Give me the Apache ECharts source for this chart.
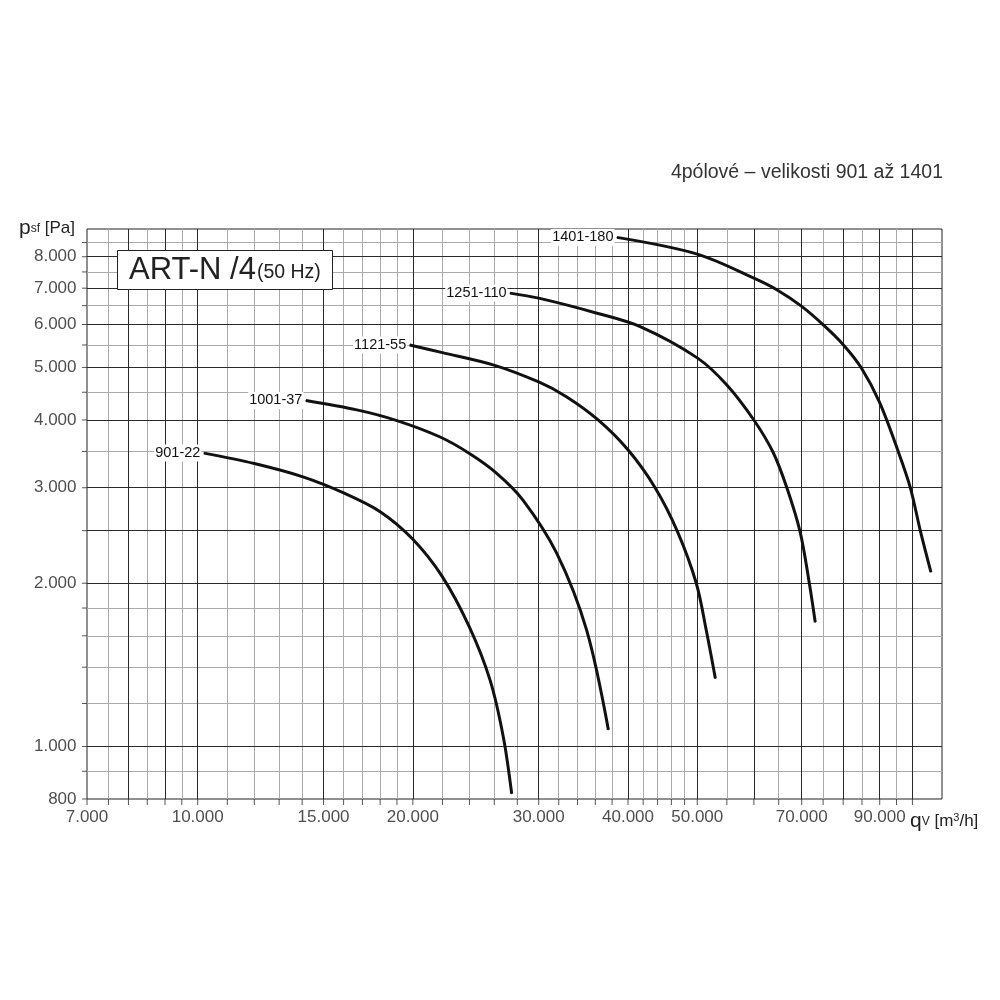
<!DOCTYPE html>
<html><head><meta charset="utf-8">
<script src="https://cdn.jsdelivr.net/npm/echarts@6/dist/echarts.min.js"></script>
<style>html,body{margin:0;padding:0;background:#fff}#c{width:1000px;height:1000px}</style>
</head><body><div id="c"></div>
<script>
// ---- axis ranges / grid values ----
const xMin = 7000, xMax = 110000, yMin = 800, yMax = 9000;
const xMajorGrid = [8000, 9000, 10000, 15000, 20000, 30000, 40000, 50000, 60000, 70000, 80000, 90000, 100000];
const xMinorGrid = [7500, 8500, 9500, 11000, 12000, 13000, 14000, 16000, 17000, 18000, 19000, 22000, 24000, 26000, 28000,
  32000, 34000, 36000, 38000, 42000, 44000, 46000, 48000, 55000, 65000, 75000, 85000, 95000];
const yMajorGrid = [1000, 2000, 2500, 3000, 4000, 5000, 6000, 7000, 8000];
const yMinorGrid = [900, 1200, 1400, 1600, 1800, 3500, 4500, 5500, 6500, 7500, 8500];
const xTickLabels = [7000, 10000, 15000, 20000, 30000, 40000, 50000, 70000, 90000];
const yTickLabels = [800, 1000, 2000, 3000, 4000, 5000, 6000, 7000, 8000];

// ---- curves: [q_v m3/h, p_sf Pa] ----
const curveNames = ['901-22', '1001-37', '1121-55', '1251-110', '1401-180'];
const c901 = [[10200,3475],[12000,3325],[14000,3145],[16000,2935],[18000,2710],[20000,2410],[22000,2055],
  [24000,1660],[25650,1325],[26770,1040],[27500,818]];
const c1001 = [[14170,4345],[16700,4175],[19000,3990],[21800,3725],[24000,3470],[26200,3190],[28500,2850],
  [31800,2270],[35000,1640],[37550,1073]];
const c1121 = [[19800,5500],[22000,5325],[25900,5055],[30000,4700],[32800,4415],[36330,4000],[40020,3520],
  [43650,3000],[46880,2495],[49840,2000],[51470,1638],[53000,1335]];
const c1251 = [[27350,6855],[30000,6710],[36200,6295],[41600,5945],[50000,5207],[55000,4642],[60000,4000],
  [63880,3480],[66840,2980],[69680,2480],[71740,2000],[73120,1695]];
const c1401 = [[38600,8685],[50000,8090],[60000,7305],[64600,6955],[70000,6480],[75050,5990],[80080,5502],[84840,4989],
  [89900,4318],[95590,3491],[99360,2996],[102610,2495],[106150,2096]];
const curves = [c901, c1001, c1121, c1251, c1401];

const FONT = 'Liberation Sans';
const fmt = v => String(v).replace(/\B(?=(\d{3})+(?!\d))/g, '.');
const vLines = vals => vals.map(v => ({ coords: [[v, yMin], [v, yMax]] }));
const hLines = vals => vals.map(v => ({ coords: [[xMin, v], [xMax, v]] }));

const gridSeries = (data, color, z) => ({
  type: 'lines', coordinateSystem: 'cartesian2d', silent: true, z: z,
  lineStyle: { color: color, width: 1, opacity: 1 }, data: data
});

const allX = [xMin].concat(xMajorGrid, xMinorGrid);
const allY = [yMin].concat(yMajorGrid, yMinorGrid);

const series = [
  gridSeries(vLines(xMinorGrid).concat(hLines(yMinorGrid)), '#ababab', 1),
  gridSeries(vLines(xMajorGrid).concat(hLines(yMajorGrid)), '#2a2a2a', 2),
  { type: 'scatter', silent: true, clip: false, symbol: 'rect', symbolSize: [1, 6], symbolOffset: [0, 3],
    itemStyle: { color: '#2a2a2a' }, data: allX.map(v => [v, yMin]), z: 3 },
  { type: 'scatter', silent: true, clip: false, symbol: 'rect', symbolSize: [5, 1], symbolOffset: [-2.5, 0],
    itemStyle: { color: '#2a2a2a' }, data: allY.map(v => [xMin, v]), z: 3 },
  { type: 'scatter', silent: true, clip: false, symbolSize: 1, itemStyle: { color: 'rgba(0,0,0,0)' },
    label: { show: true, position: 'bottom', distance: 9, fontFamily: FONT, fontSize: 17, color: '#222',
      formatter: p => fmt(p.value[0]) },
    data: xTickLabels.map(v => [v, yMin]), z: 3 },
  { type: 'scatter', silent: true, clip: false, symbolSize: 1, itemStyle: { color: 'rgba(0,0,0,0)' },
    label: { show: true, position: 'left', distance: 10, fontFamily: FONT, fontSize: 17, color: '#222',
      formatter: p => fmt(p.value[1]) },
    data: yTickLabels.map(v => [xMin, v]), z: 3 }
];

curves.forEach((c, i) => {
  series.push({
    type: 'line', name: curveNames[i], smooth: 0.33, showSymbol: true, symbol: 'circle', symbolSize: 1,
    itemStyle: { color: '#111' }, lineStyle: { color: '#111', width: 3 }, z: 10, silent: true,
    data: c.map((pt, j) => j === 0 ? {
      value: pt,
      label: { show: true, position: 'left', distance: 2, formatter: curveNames[i], fontFamily: FONT,
        fontSize: 14.5, color: '#111', backgroundColor: '#fff', padding: [1, 1] }
    } : { value: pt })
  });
});

const chart = echarts.init(document.getElementById('c'), null, { renderer: 'canvas' });
chart.setOption({
  animation: false,
  backgroundColor: '#fff',
  textStyle: { fontFamily: FONT },
  title: [
    { text: '4pólové – velikosti 901 až 1401', right: 57, top: 163, padding: 0,
      textStyle: { fontFamily: FONT, fontSize: 19.5, fontWeight: 'normal', color: '#333' } },
    { text: '{a|ART-N /4}{b|(50 Hz)}', left: 117, top: 246, padding: [5, 12, 4, 12],
      backgroundColor: '#fff', borderColor: '#222', borderWidth: 1,
      textStyle: { fontFamily: FONT, fontWeight: 'normal', color: '#222',
        rich: { a: { fontFamily: FONT, fontSize: 31, lineHeight: 35, color: '#222', verticalAlign: 'bottom' },
                b: { fontFamily: FONT, fontSize: 19.5, lineHeight: 35, color: '#222', verticalAlign: 'bottom', padding: [0, 0, 3, 1] } } } },
    { text: '{p|p}{s|sf}{n| [Pa]}', left: 19, top: 217, padding: 0,
      textStyle: { fontFamily: FONT, fontWeight: 'normal', color: '#222',
        rich: { p: { fontFamily: FONT, fontSize: 21, lineHeight: 22, color: '#222' },
                s: { fontFamily: FONT, fontSize: 12, lineHeight: 22, color: '#222', padding: [0, 0, -2, 0] },
                n: { fontFamily: FONT, fontSize: 17, lineHeight: 22, color: '#222' } } } },
    { text: '{q|q}{s|V}{n| [m}{u|3}{n|/h]}', left: 910, top: 810, padding: 0,
      textStyle: { fontFamily: FONT, fontWeight: 'normal', color: '#222',
        rich: { q: { fontFamily: FONT, fontSize: 21, lineHeight: 22, color: '#222' },
                s: { fontFamily: FONT, fontSize: 12, lineHeight: 22, color: '#222', padding: [0, 0, -2, 0] },
                n: { fontFamily: FONT, fontSize: 17, lineHeight: 22, color: '#222' },
                u: { fontFamily: FONT, fontSize: 11, lineHeight: 22, color: '#222', verticalAlign: 'top', padding: [2, 0, 0, 0] } } } }
  ],
  grid: { left: 87, right: 58, top: 229, bottom: 201, show: true, borderColor: '#222', borderWidth: 1,
    backgroundColor: 'rgba(0,0,0,0)', outerBoundsMode: 'none' },
  xAxis: { type: 'log', logBase: 10, min: xMin, max: xMax,
    axisLine: { show: false }, axisTick: { show: false }, axisLabel: { show: false }, splitLine: { show: false } },
  yAxis: { type: 'log', logBase: 10, min: yMin, max: yMax,
    axisLine: { show: false }, axisTick: { show: false }, axisLabel: { show: false }, splitLine: { show: false } },
  series: series
});
</script>
</body></html>
